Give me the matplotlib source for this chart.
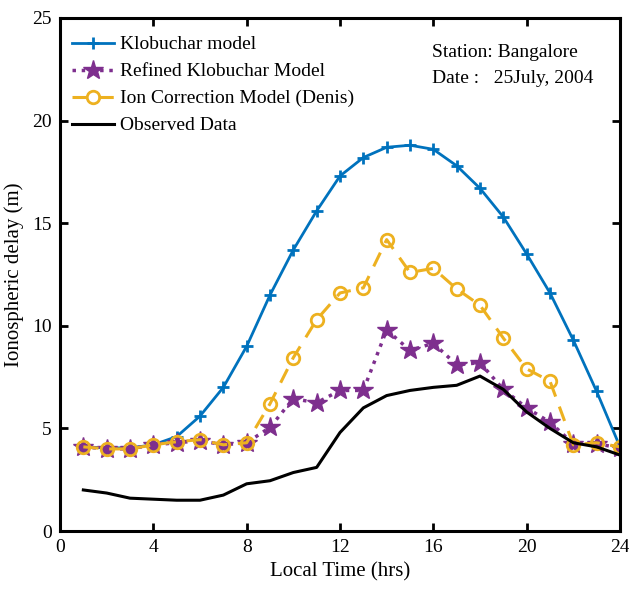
import matplotlib
matplotlib.use('Agg')
import matplotlib.pyplot as plt

hours = list(range(1, 25))
klobuchar = [4.1, 4.05, 4.05, 4.2, 4.6, 5.6, 7.0, 9.0, 11.5, 13.7, 15.6, 17.3,
             18.2, 18.7, 18.8, 18.6, 17.8, 16.7, 15.3, 13.5, 11.6, 9.3, 6.8, 4.1]
refined = [4.1, 4.0, 4.0, 4.2, 4.3, 4.4, 4.2, 4.3, 5.05, 6.45, 6.25, 6.85,
           6.85, 9.8, 8.8, 9.15, 8.1, 8.2, 6.9, 6.0, 5.3, 4.25, 4.25, 4.05]
ion = [4.1, 4.0, 4.0, 4.2, 4.35, 4.45, 4.2, 4.3, 6.2, 8.45, 10.3, 11.6,
       11.85, 14.2, 12.6, 12.8, 11.8, 11.0, 9.4, 7.9, 7.3, 4.2, 4.3, 4.1]
observed = [2.0, 1.85, 1.6, 1.55, 1.5, 1.5, 1.75, 2.3, 2.45, 2.85, 3.1, 4.8,
            6.0, 6.6, 6.85, 7.0, 7.1, 7.55, 6.9, 5.8, 5.0, 4.3, 4.1, 3.7]

plt.rcParams['font.family'] = ['Liberation Serif', 'DejaVu Serif']

fig = plt.figure(figsize=(6.29, 5.94), dpi=100)
ax = fig.add_axes([60/629, 63/594, 560/629, 513/594])

ax.plot(hours, klobuchar, color='#0072BD', linewidth=2, marker='+',
        markersize=9, markeredgewidth=2, label='Klobuchar model')
ax.plot(hours, refined, color='#7E2F8E', linewidth=2.5, linestyle=':', marker='*',
        markersize=15, label='Refined Klobuchar Model')
ax.plot(hours, ion, color='#EDB120', linewidth=2.2, linestyle=(0, (5, 3.5)), marker='o',
        markersize=9, markerfacecolor='none', markeredgewidth=2,
        label='Ion Correction Model (Denis)')
ax.plot(hours, observed, color='black', linewidth=2.2, label='Observed Data')

ax.set_xlim(0, 24)
ax.set_ylim(0, 25)
ax.set_xticks(range(0, 25, 4))
ax.set_yticks(range(0, 26, 5))
ax.tick_params(direction='in', length=6, width=2, top=True, right=True,
               labelsize=14, pad=6)
for s in ax.spines.values():
    s.set_linewidth(2.2)

ax.set_xlabel('Local Time (hrs)', fontsize=15, labelpad=4)
ax.set_ylabel('Ionospheric delay (m)', fontsize=15, labelpad=6)

ax.legend(loc='upper left', frameon=False, fontsize=14, handlelength=2.2,
          handletextpad=0.3, labelspacing=0.48, borderaxespad=0.2,
          bbox_to_anchor=(0.0, 0.988))
ax.text(0.665, 0.95, 'Station: Bangalore\nDate :   25July, 2004',
        transform=ax.transAxes, fontsize=14, va='top', ha='left', linespacing=1.75)

fig.savefig('out.png', dpi=100)
